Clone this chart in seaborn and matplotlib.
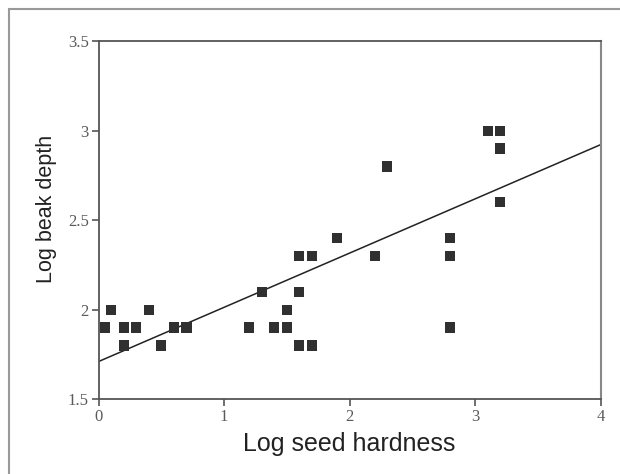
import matplotlib
import matplotlib.pyplot as plt
import seaborn as sns
import pandas as pd
from matplotlib.patches import Rectangle

matplotlib.use('Agg')

# values
seed_hardness = [0.05, 0.1, 0.2, 0.2, 0.3, 0.4, 0.5, 0.6, 0.7,
                 1.2, 1.3, 1.4, 1.5, 1.5, 1.6, 1.6, 1.6, 1.7, 1.7,
                 1.9, 2.2, 2.3, 2.8, 2.8, 2.8, 3.1, 3.2, 3.2, 3.2]
beak_depth = [1.9, 2.0, 1.9, 1.8, 1.9, 2.0, 1.8, 1.9, 1.9,
              1.9, 2.1, 1.9, 1.9, 2.0, 2.3, 2.1, 1.8, 2.3, 1.8,
              2.4, 2.3, 2.8, 2.4, 2.3, 1.9, 3.0, 3.0, 2.9, 2.6]
# fitted line as printed in the figure
fit_intercept = 1.71
fit_slope = 0.303
x_ticks = [0, 1, 2, 3, 4]
y_ticks = [1.5, 2, 2.5, 3, 3.5]
y_tick_labels = ["1.5", "2", "2.5", "3", "3.5"]

df = pd.DataFrame({"hardness": seed_hardness, "depth": beak_depth})

sns.set_style("ticks")
fig = plt.figure(figsize=(6.2, 4.74), dpi=100)
ax = fig.add_axes([0.159, 0.158, 0.8097, 0.755])

sns.scatterplot(data=df, x="hardness", y="depth", ax=ax, marker="s", s=54,
                color="#303030", edgecolor="none", zorder=3)
ax.axline((0, fit_intercept), slope=fit_slope, color="#222222", lw=1.1, zorder=2)

ax.set_xlim(0, 4)
ax.set_ylim(1.5, 3.5)
ax.set_xticks(x_ticks)
ax.set_yticks(y_ticks)
ax.set_yticklabels(y_tick_labels)
for lab in ax.get_xticklabels() + ax.get_yticklabels():
    lab.set_family("Liberation Serif")
    lab.set_fontsize(12)
    lab.set_color("#5a5a5a")
ax.tick_params(direction="out", length=5, width=1.2, color="#555555", pad=2)

for side in ["left", "bottom", "top"]:
    ax.spines[side].set_color("#555555")
    ax.spines[side].set_linewidth(1.3)
ax.spines["right"].set_color("#888888")
ax.spines["right"].set_linewidth(1.5)

ax.set_xlabel("Log seed hardness", family="Liberation Sans", fontsize=18, color="#222222")
ax.set_ylabel("Log beak depth", family="Liberation Sans", fontsize=15.5, color="#222222")
ax.xaxis.set_label_coords(0.5, -0.093)
ax.yaxis.set_label_coords(-0.083, 0.53)

# outer frame of the figure panel
fig.patches.append(Rectangle((8.5 / 620, -0.1), 1.2, (474 - 9.5) / 474 + 0.1,
                             transform=fig.transFigure, fill=False,
                             edgecolor="#999999", lw=1.5))

fig.savefig("out.png", dpi=100)
